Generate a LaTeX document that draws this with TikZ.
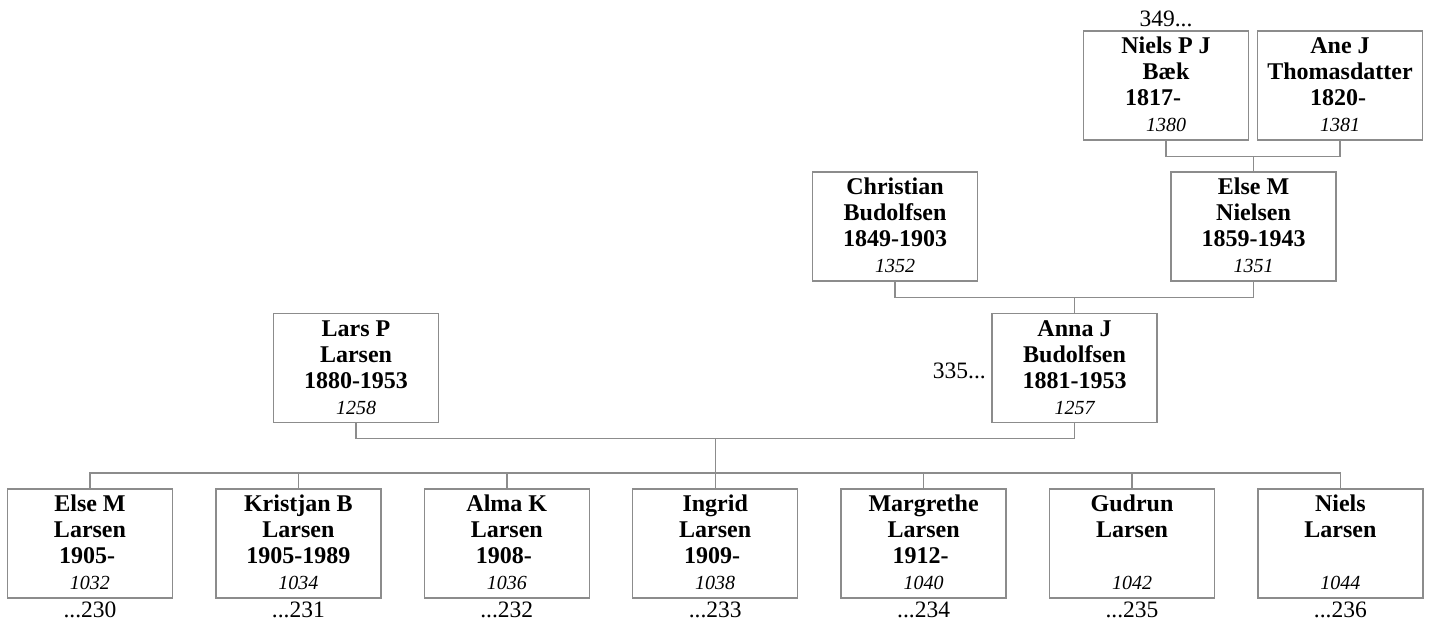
\documentclass[tikz,border=0pt]{standalone}
\usepackage{fontspec}
\setmainfont{Liberation Serif}
\usetikzlibrary{calc}
\definecolor{linegray}{RGB}{140,140,140}
\newcommand\pbox[4]{\parbox[c][109pt][t]{165pt}{\centering\fontsize{24}{26}\selectfont\bfseries\rule{0pt}{22.5pt}#1\\#2\\\mbox{}#3\\{\mdseries\itshape\fontsize{20}{26}\selectfont #4}}}
\tikzset{
  person/.style={draw=linegray, line width=1.4pt, inner sep=0pt},
  link/.style={draw=linegray, line width=1.4pt},
  extra/.style={inner sep=0pt, font=\fontsize{23.5}{26}\selectfont, anchor=base},
}
\begin{document}
\begin{tikzpicture}[x=1pt,y=-1pt]
\useasboundingbox (0,0) rectangle (1430,623);
% row 0
\node[person] (niels) at (1166,85.5) {\pbox{Niels P J}{Bæk}{\mbox{1817-\kern26pt}}{1380}};
\node[person] (ane) at (1340,85.5) {\pbox{Ane J}{Thomasdatter}{\mbox{1820-\kern4pt}}{1381}};
% row 1
\node[person] (chris) at (895,226.5) {\pbox{Christian}{Budolfsen}{1849-1903}{1352}};
\node[person] (elsen) at (1253.5,226.5) {\pbox{Else M}{Nielsen}{1859-1943}{1351}};
% row 2
\node[person] (lars) at (356,368) {\pbox{Lars P}{Larsen}{1880-1953}{1258}};
\node[person] (anna) at (1074.5,368) {\pbox{Anna J}{Budolfsen}{1881-1953}{1257}};
% row 3
\node[person] (c1) at (90,543.5) {\pbox{Else M}{Larsen}{\mbox{1905-\kern6pt}}{1032}};
\node[person] (c2) at (298.4,543.5) {\pbox{Kristjan B}{Larsen}{1905-1989}{1034}};
\node[person] (c3) at (506.8,543.5) {\pbox{Alma K}{Larsen}{\mbox{1908-\kern6pt}}{1036}};
\node[person] (c4) at (715.2,543.5) {\pbox{Ingrid}{Larsen}{\mbox{1909-\kern6pt}}{1038}};
\node[person] (c5) at (923.6,543.5) {\pbox{Margrethe}{Larsen}{\mbox{1912-\kern6pt}}{1040}};
\node[person] (c6) at (1132,543.5) {\pbox{Gudrun}{Larsen}{}{1042}};
\node[person] (c7) at (1340.4,543.5) {\pbox{Niels}{Larsen}{}{1044}};
% extra labels
\node[extra] (l349) at (1166,27) {349...};
\node[extra, anchor=base east] (l335) at (986,378) {335...};
\node[extra] (d1) at (c1.south |- 0,617) {...230};
\node[extra] (d2) at (c2.south |- 0,617) {...231};
\node[extra] (d3) at (c3.south |- 0,617) {...232};
\node[extra] (d4) at (c4.south |- 0,617) {...233};
\node[extra] (d5) at (c5.south |- 0,617) {...234};
\node[extra] (d6) at (c6.south |- 0,617) {...235};
\node[extra] (d7) at (c7.south |- 0,617) {...236};
% connectors
\draw[link] (niels.south) -- ++(0,16) coordinate (j0) -| (ane.south);
\draw[link] (elsen.north) -- (elsen.north |- j0);
\draw[link] (chris.south) -- ++(0,16) coordinate (j1) -| (elsen.south);
\draw[link] (anna.north) -- (anna.north |- j1);
\draw[link] (lars.south) -- ++(0,15) coordinate (j2) -| (anna.south);
\coordinate (m2) at ($(lars.south |- j2)!0.5!(anna.south |- j2)$);
\coordinate (cbar) at (715,473);
\draw[link] (m2) -- (m2 |- cbar);
\draw[link] (c1.north) -- (c1.north |- cbar) -- (c7.north |- cbar) -- (c7.north);
\foreach \c in {c2,c3,c4,c5,c6}{\draw[link] (\c.north) -- (\c.north |- cbar);}
\end{tikzpicture}
\end{document}
